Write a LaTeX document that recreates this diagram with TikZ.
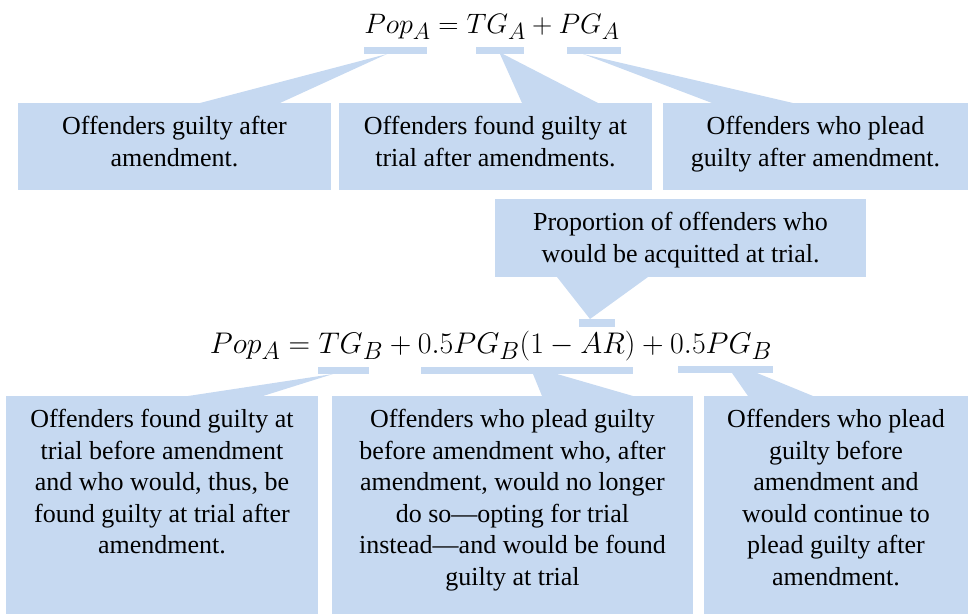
\documentclass[tikz,border=0pt]{standalone}
\usepackage{fontspec}
\setmainfont{Liberation Serif}
\begin{document}
\begin{tikzpicture}[
  x=1pt,
  y=-1pt,
  callbox/.style={fill=calloutBlue, inner sep=0pt, outer sep=0pt, anchor=north west},
  calltext/.style={font=\fontsize{26}{31.5}\selectfont, align=center, inner sep=0pt, anchor=north},
  termbar/.style={fill=calloutBlue, inner sep=0pt, outer sep=0pt, minimum height=7pt, anchor=north west},
  eqn/.style={font=\Huge, inner sep=0pt, anchor=base, transform shape}
]

% Callout fill as in the source slide
\definecolor{calloutBlue}{RGB}{198,217,241}

\useasboundingbox (0,0) rectangle (968,614);

% Equations
\node[eqn, scale=1.13] (eqTop) at (492,33) {$Pop_A = TG_A + PG_A$};
\node[eqn, scale=1.2] (eqBot) at (491,353) {$Pop_A = TG_B + 0.5PG_B(1 - AR) + 0.5PG_B$};

% Bars under the terms
\node[termbar, minimum width=63pt] (barPop) at (364,47) {};
\node[termbar, minimum width=48pt] (barTGA) at (476,47) {};
\node[termbar, minimum width=54pt] (barPGA) at (567,47) {};
\node[termbar, minimum width=36pt, minimum height=8pt] (barAR) at (579,319) {};
\node[termbar, minimum width=51pt] (barTGB) at (318,367) {};
\node[termbar, minimum width=212pt] (barMid) at (421,367) {};
\node[termbar, minimum width=95pt] (barPGB) at (678,366) {};

% Top row of callouts
\node[callbox, minimum width=313pt, minimum height=87pt] (boxA) at (18,103) {};
\node[calltext] (txtA) at ([yshift=-13pt]boxA.north) {Offenders guilty after\\amendment.};
\fill[calloutBlue] ([xshift=182pt]boxA.north west) -- ([xshift=23pt]barPop.south west) -- ([xshift=262pt]boxA.north west) -- cycle;

\node[callbox, minimum width=313pt, minimum height=87pt] (boxB) at (339,103) {};
\node[calltext] (txtB) at ([yshift=-13pt]boxB.north) {Offenders found guilty at\\trial after amendments.};
\fill[calloutBlue] ([xshift=183pt]boxB.north west) -- ([xshift=24pt]barTGA.south west) -- ([xshift=27pt]barTGA.south west) -- ([xshift=259pt]boxB.north west) -- cycle;

\node[callbox, minimum width=305pt, minimum height=87pt] (boxC) at (663,103) {};
\node[calltext] (txtC) at ([yshift=-13pt]boxC.north) {Offenders who plead\\guilty after amendment.};
\fill[calloutBlue] ([xshift=49pt]boxC.north west) -- ([xshift=16pt]barPGA.south west) -- ([xshift=130pt]boxC.north west) -- cycle;

% Middle callout, pointing down
\node[callbox, minimum width=371pt, minimum height=78pt] (boxM) at (495,199) {};
\node[calltext] (txtM) at ([yshift=-13pt]boxM.north) {Proportion of offenders who\\would be acquitted at trial.};
\fill[calloutBlue] ([xshift=62pt]boxM.south west) -- ([xshift=11pt]barAR.north west) -- ([xshift=153pt]boxM.south west) -- cycle;

% Bottom row of callouts
\node[callbox, minimum width=312pt, minimum height=218pt] (boxD) at (6,396) {};
\node[calltext] (txtD) at ([yshift=-13pt]boxD.north) {Offenders found guilty at\\trial before amendment\\and who would, thus, be\\found guilty at trial after\\amendment.};
\fill[calloutBlue] ([xshift=182pt]boxD.north west) -- ([xshift=15pt]barTGB.south west) -- ([xshift=257pt]boxD.north west) -- cycle;

\node[callbox, minimum width=361pt, minimum height=218pt] (boxE) at (332,396) {};
\node[calltext] (txtE) at ([yshift=-13pt]boxE.north) {Offenders who plead guilty\\before amendment who, after\\amendment, would no longer\\do so—opting for trial\\instead—and would be found\\guilty at trial};
\fill[calloutBlue] ([xshift=210pt]boxE.north west) -- ([xshift=112pt]barMid.south west) -- ([xshift=136pt]barMid.south west) -- ([xshift=301pt]boxE.north west) -- cycle;

\node[callbox, minimum width=264pt, minimum height=218pt] (boxF) at (704,396) {};
\node[calltext] (txtF) at ([yshift=-13pt]boxF.north) {Offenders who plead\\guilty before\\amendment and\\would continue to\\plead guilty after\\amendment.};
\fill[calloutBlue] ([xshift=44pt]boxF.north west) -- ([xshift=54pt]barPGB.south west) -- ([xshift=79pt]barPGB.south west) -- ([xshift=109pt]boxF.north west) -- cycle;

\end{tikzpicture}
\end{document}
